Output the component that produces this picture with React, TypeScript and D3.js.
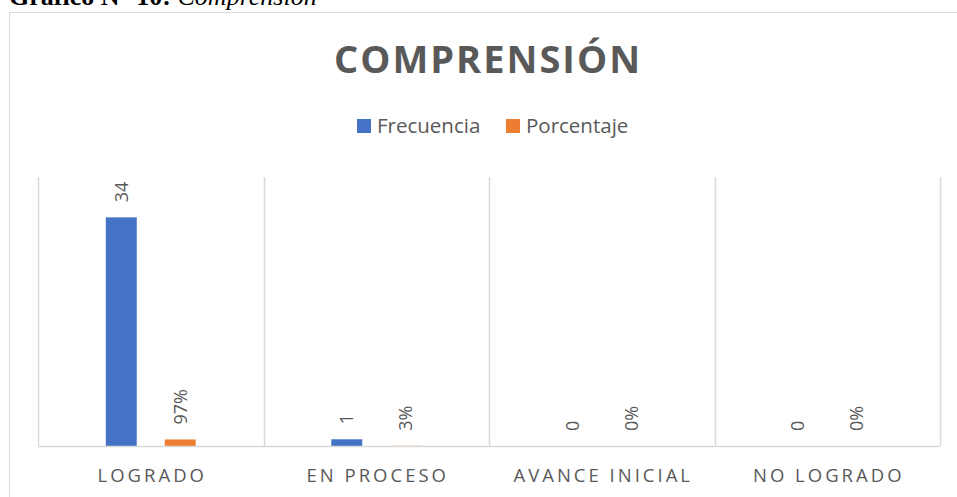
import React from "react";
import * as d3 from "d3";

const categories = ["LOGRADO", "EN PROCESO", "AVANCE INICIAL", "NO LOGRADO"];
const seriesNames = ["Frecuencia", "Porcentaje"];
const frecuencia = [34, 1, 0, 0];
const porcentaje = [0.97, 0.03, 0, 0];
const frecuenciaLabels = ["34", "1", "0", "0"];
const porcentajeLabels = ["97%", "3%", "0%", "0%"];
const colors = ["#4472C4", "#ED7D31"];
const yMax = 40;

const W = 957;
const H = 497;
const plot = { left: 38, right: 940, top: 177, bottom: 446 };
const textColor = "#595959";
const gridColor = "#D9D9D9";
const font = "'Open Sans', sans-serif";

export default function App() {
  const x0 = d3
    .scaleBand<string>()
    .domain(categories)
    .range([plot.left, plot.right])
    .padding(0);
  const x1 = d3
    .scaleBand<string>()
    .domain(seriesNames)
    .range([0, x0.bandwidth()])
    .paddingInner(0.475)
    .paddingOuter(1.15);
  const y = d3.scaleLinear().domain([0, yMax]).range([plot.bottom, plot.top]);

  const series = [
    { name: seriesNames[0], values: frecuencia, labels: frecuenciaLabels, color: colors[0] },
    { name: seriesNames[1], values: porcentaje, labels: porcentajeLabels, color: colors[1] },
  ];

  const boundaries = [...categories.map((c) => x0(c) as number), plot.right];
  const catSpacing = 3;

  return (
    <svg
      width={W}
      height={H}
      style={{ position: "absolute", left: 0, top: 0, display: "block", background: "#fff" }}
    >
      {/* document caption (cut off at top) */}
      <text x={9} y={5} fontFamily="'Liberation Serif', 'Times New Roman', serif" fontSize={26} fill="#000">
        <tspan fontWeight="bold">Gráfico N° 10:</tspan>
        <tspan fontStyle="italic"> Comprensión</tspan>
      </text>

      {/* chart border */}
      <rect x={9.5} y={12.5} width={W + 10} height={H + 10} fill="none" stroke={gridColor} strokeWidth={1} />

      {/* title */}
      <text
        x={488}
        y={73}
        textAnchor="middle"
        fontFamily={font}
        fontWeight="bold"
        fontSize={38}
        letterSpacing={2}
        fill={textColor}
      >
        COMPRENSIÓN
      </text>

      {/* legend */}
      {series.map((s, i) => {
        const lx = i === 0 ? 357 : 506;
        return (
          <g key={s.name}>
            <rect x={lx} y={119} width={14} height={14} fill={s.color} />
            <text x={lx + 20} y={132.5} fontFamily={font} fontSize={20.5} fill={textColor}>
              {s.name}
            </text>
          </g>
        );
      })}

      {/* vertical gridlines at category boundaries */}
      {boundaries.map((bx, i) => (
        <line
          key={i}
          x1={Math.round(bx) + 0.5}
          x2={Math.round(bx) + 0.5}
          y1={plot.top}
          y2={plot.bottom}
          stroke={gridColor}
          strokeWidth={1.5}
        />
      ))}

      {/* bars */}
      {series.map((s) =>
        categories.map((c, i) => {
          const bx = (x0(c) as number) + (x1(s.name) as number);
          const by = y(s.values[i]);
          return (
            <rect
              key={s.name + c}
              x={bx}
              y={by}
              width={x1.bandwidth()}
              height={plot.bottom - by}
              fill={s.color}
            />
          );
        })
      )}

      {/* baseline axis */}
      <line x1={plot.left} x2={plot.right} y1={plot.bottom + 0.5} y2={plot.bottom + 0.5} stroke={gridColor} strokeWidth={1.5} />

      {/* data labels */}
      {series.map((s) =>
        categories.map((c, i) => {
          const cx = (x0(c) as number) + (x1(s.name) as number) + x1.bandwidth() / 2;
          const ty = y(s.values[i]) - 15;
          return (
            <text
              key={"l" + s.name + c}
              transform={`translate(${cx},${ty}) rotate(-90)`}
              dy="0.35em"
              fontFamily={font}
              fontSize={18}
              fill={textColor}
            >
              {s.labels[i]}
            </text>
          );
        })
      )}

      {/* category labels */}
      {categories.map((c) => (
        <text
          key={"c" + c}
          x={(x0(c) as number) + x0.bandwidth() / 2 + catSpacing / 2}
          y={481.5}
          textAnchor="middle"
          fontFamily={font}
          fontSize={18.5}
          letterSpacing={catSpacing}
          fill={textColor}
        >
          {c}
        </text>
      ))}
    </svg>
  );
}
